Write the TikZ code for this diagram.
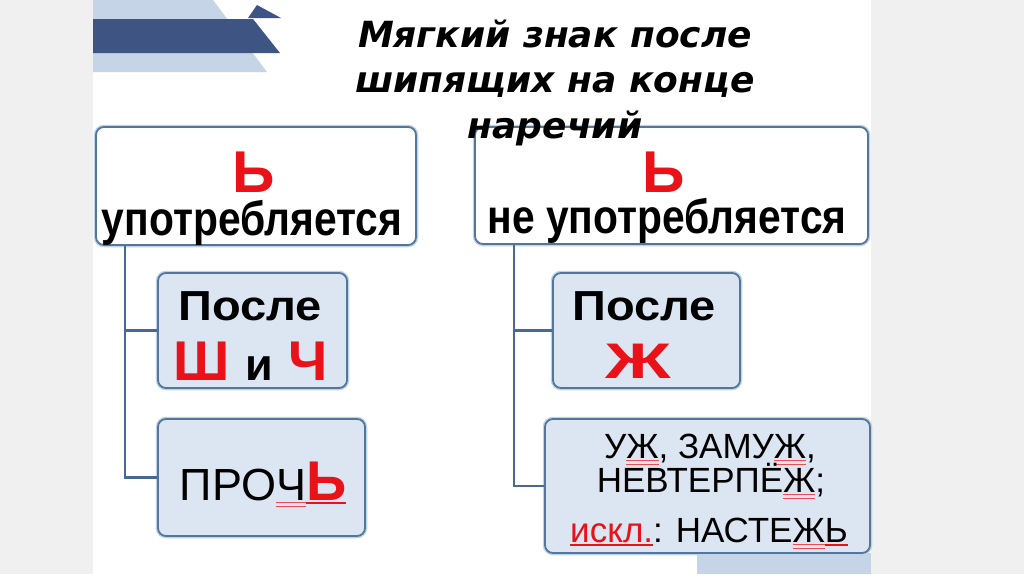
\documentclass[tikz,border=0pt]{standalone}
\usepackage{fontspec}
\setmainfont{Liberation Sans}
\newfontfamily\titlefont{DejaVu Sans}
\newfontfamily\narrowfont{Liberation Sans}[FakeStretch=0.85]
\newfontfamily\widefont{Liberation Sans}[FakeStretch=1.12]
\usepackage{tikz}
\usetikzlibrary{positioning}

\definecolor{panelgray}{RGB}{240,240,240}
\definecolor{bandlight}{RGB}{198,212,232}
\definecolor{banddark}{RGB}{62,84,130}
\definecolor{boxline}{RGB}{84,118,152}
\definecolor{boxglow}{RGB}{190,212,236}
\definecolor{subfill}{RGB}{220,230,242}
\definecolor{letterred}{RGB}{232,18,24}
\definecolor{connline}{RGB}{70,105,150}

\newcommand\setsize[1]{\fontsize{#1}{#1}\selectfont}
\newsavebox\markbox
% double red spelling mark under a letter
\newcommand\spellmark[1]{\sbox\markbox{#1}%
  \rlap{\color{letterred!75}\raisebox{-3pt}{\rule{\wd\markbox}{0.8pt}}}%
  \rlap{\color{letterred!75}\raisebox{-6.5pt}{\rule{\wd\markbox}{0.8pt}}}%
  \usebox\markbox}
% single red underline
\newcommand\redline[1]{\sbox\markbox{#1}%
  \rlap{\color{letterred}\raisebox{-4pt}{\rule{\wd\markbox}{1.8pt}}}%
  \usebox\markbox}

\begin{document}
\begin{tikzpicture}[
  x=1pt, y=-1pt,
  topbox/.style={rectangle, draw=boxline, line width=1.8pt, rounded corners=8pt,
                 fill=white, preaction={draw=boxglow, line width=4.5pt}},
  subbox/.style={topbox, fill=subfill},
  word/.style={anchor=base, inner sep=0pt, text=black},
  conn/.style={draw=connline, line width=2.2pt}
]
\useasboundingbox (0,0) rectangle (1024,574);
\fill[panelgray] (0,0) rectangle (1024,574);
\fill[white] (93,0) rectangle (871,574);

% slide decoration
\fill[bandlight] (93,0) -- (213,0) -- (267,72) -- (93,72) -- cycle;
\fill[banddark] (93,19) -- (253,19) -- (280,53) -- (93,53) -- cycle;
\fill[banddark] (248,18) -- (257,5) -- (281,18) -- cycle;
\fill[bandlight] (697,553) -- (871,553) -- (871,574) -- (697,574) -- cycle;

% boxes
\node[topbox, minimum width=320pt, minimum height=118pt] (ltop) at (256,186) {};
\node[topbox, minimum width=393pt, minimum height=117pt] (rtop) at (671.5,185.5) {};
\node[subbox, minimum width=189pt, minimum height=115pt] (lafter) at (252.5,330.5) {};
\node[subbox, minimum width=207pt, minimum height=117pt] (lword) at (261.5,477.5) {};
\node[subbox, minimum width=187pt, minimum height=115pt] (rafter) at (646.5,330.5) {};
\node[subbox, minimum width=325pt, minimum height=134pt] (rword) at (707.5,486) {};

\draw[conn] ([xshift=30pt]ltop.south west) |- (lafter.west);
\draw[conn] ([xshift=30pt]ltop.south west) |- (lword.west);
\draw[conn] ([xshift=40pt]rtop.south west) |- (rafter.west);
\draw[conn] ([xshift=40pt]rtop.south west) |- (rword.west);

% title, drawn over the box edge (base anchor sits on the last line)
\node[word, align=center, font=\titlefont\bfseries\itshape\fontsize{36}{45.5}\selectfont]
  (title) at (555,138) {Мягкий знак после\\шипящих на конце\\наречий};

% texts
\node[word, text=letterred, font=\bfseries\setsize{59}] (lsign) at (254,192) {Ь};
\node[word, font=\narrowfont\bfseries\setsize{48}] (lused) at (252,235) {употребляется};
\node[word, text=letterred, font=\bfseries\setsize{59}] (rsign) at (664,192) {Ь};
\node[word, font=\narrowfont\bfseries\setsize{48}] (rused) at (667,233) {не употребляется};

\node[word, font=\widefont\bfseries\setsize{42}] (lafter1) at (250,320) {После};
\node[word, font=\bfseries\setsize{56}] (lafter2) at (251,380)
  {\textcolor{letterred}{Ш} {\setsize{45}и} \textcolor{letterred}{Ч}};
\node[word, font=\setsize{45}] (lwordt) at (263,500)
  {ПРО\spellmark{Ч}\redline{\textcolor{letterred}{\bfseries\setsize{56}Ь}}};

\node[word, font=\widefont\bfseries\setsize{42}] (rafter1) at (644,320) {После};
\node[word, text=letterred, font=\bfseries\setsize{50}] (rafter2) at (638,378)
  {\scalebox{1.45}[1]{Ж}};

\node[word, font=\setsize{35}] (rline1) at (710,458)
  {У\spellmark{Ж}, ЗАМУ\spellmark{Ж},};
\node[word, font=\setsize{35}] (rline2) at (711,492)
  {НЕВТЕРПЁ\spellmark{Ж};};
\node[word, font=\setsize{35}] (rline3) at (709,542)
  {\redline{\textcolor{letterred}{искл.}}: НАСТЕ\spellmark{Ж}\redline{Ь}};
\end{tikzpicture}
\end{document}
